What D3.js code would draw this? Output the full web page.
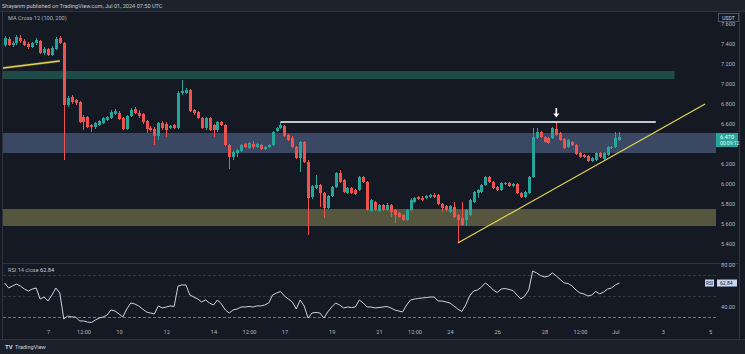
<!DOCTYPE html>
<html>
<head>
<meta charset="utf-8">
<script src="https://cdn.jsdelivr.net/npm/d3@7"></script>
<style>
  body { margin: 0; background: #151924; }
  svg { display: block; font-family: Roboto, "DejaVu Sans", sans-serif; }
</style>
</head>
<body>
<svg width="745" height="354"></svg>
<script>
// 4h candles, first one opens Jun 5 04:00 UTC
const candleStart = Date.UTC(2024, 5, 5, 4);
const candleHours = 4;

const open = [7.39,7.45,7.39,7.41,7.46,7.43,7.40,7.37,7.41,7.43,
  7.31,7.35,7.29,7.35,7.46,7.41,6.79,6.87,6.84,6.82,
  6.67,6.67,6.59,6.57,6.59,6.61,6.64,6.66,6.70,6.71,
  6.66,6.55,6.68,6.75,6.71,6.70,6.63,6.56,6.55,6.48,
  6.61,6.60,6.56,6.59,6.56,6.91,6.91,6.94,6.74,6.72,
  6.66,6.56,6.66,6.59,6.54,6.62,6.59,6.39,6.27,6.31,
  6.33,6.40,6.36,6.40,6.37,6.39,6.35,6.37,6.39,6.53,
  6.56,6.58,6.49,6.46,6.37,6.26,6.42,6.22,5.87,5.96,
  5.99,5.91,5.76,5.88,5.97,6.11,6.04,5.91,5.96,5.94,
  5.94,6.07,6.02,5.73,5.82,5.73,5.79,5.74,5.79,5.74,
  5.71,5.69,5.64,5.74,5.82,5.87,5.86,5.86,5.87,5.89,
  5.89,5.80,5.78,5.72,5.77,5.69,5.66,5.64,5.69,5.82,
  5.91,5.92,5.99,6.07,6.02,5.97,5.94,6.00,6.01,5.98,
  6.00,5.91,5.87,5.91,6.07,6.46,6.52,6.47,6.46,6.46,
  6.55,6.51,6.45,6.37,6.42,6.39,6.31,6.29,6.28,6.23,
  6.24,6.31,6.25,6.29,6.36,6.37,6.44];
const high = [7.48,7.47,7.43,7.49,7.49,7.45,7.42,7.42,7.46,7.44,
  7.37,7.36,7.38,7.47,7.48,7.42,6.88,6.89,6.85,6.83,
  6.69,6.68,6.60,6.62,6.64,6.67,6.68,6.74,6.75,6.73,
  6.67,6.69,6.76,6.77,6.74,6.71,6.64,6.58,6.57,6.62,
  6.63,6.62,6.59,6.60,6.93,7.04,6.96,6.95,6.75,6.73,
  6.67,6.67,6.67,6.60,6.63,6.63,6.60,6.40,6.33,6.35,
  6.40,6.41,6.42,6.43,6.41,6.40,6.38,6.40,6.53,6.57,
  6.62,6.59,6.50,6.48,6.38,6.43,6.43,6.24,5.99,6.09,
  6.00,5.92,5.89,5.98,6.12,6.14,6.05,5.97,5.97,5.95,
  6.08,6.08,6.03,5.85,5.83,5.80,5.80,5.81,5.80,5.75,
  5.72,5.70,5.75,5.86,5.87,5.88,5.88,5.89,5.90,5.91,
  5.90,5.81,5.79,5.79,5.82,5.70,5.82,5.75,5.85,5.93,
  5.95,6.00,6.08,6.08,6.03,5.98,6.02,6.02,6.02,6.01,
  6.01,5.92,5.93,6.08,6.56,6.56,6.53,6.48,6.47,6.57,
  6.62,6.52,6.46,6.45,6.43,6.40,6.32,6.30,6.29,6.27,
  6.32,6.32,6.32,6.38,6.38,6.52,6.52];
const low = [7.37,7.38,7.37,7.39,7.41,7.38,7.35,7.36,7.39,7.30,
  7.29,7.28,7.28,7.34,7.40,6.24,6.77,6.80,6.79,6.61,
  6.54,6.56,6.52,6.55,6.58,6.60,6.63,6.65,6.69,6.64,
  6.54,6.54,6.67,6.70,6.66,6.60,6.51,6.52,6.39,6.44,
  6.54,6.47,6.55,6.55,6.55,6.89,6.90,6.72,6.69,6.65,
  6.55,6.54,6.53,6.47,6.52,6.58,6.38,6.15,6.24,6.27,
  6.32,6.36,6.35,6.35,6.36,6.34,6.34,6.36,6.38,6.52,
  6.55,6.47,6.43,6.36,6.25,6.12,6.21,5.49,5.85,5.95,
  5.77,5.66,5.75,5.87,5.96,6.01,5.91,5.90,5.90,5.89,
  5.93,6.01,5.73,5.72,5.73,5.72,5.73,5.73,5.67,5.61,
  5.66,5.63,5.63,5.73,5.81,5.84,5.83,5.85,5.86,5.86,
  5.79,5.72,5.73,5.71,5.66,5.41,5.58,5.58,5.68,5.81,
  5.86,5.91,5.98,6.01,5.95,5.93,5.93,5.99,5.97,5.97,
  5.90,5.86,5.86,5.90,6.06,6.45,6.46,6.41,6.40,6.45,
  6.48,6.43,6.35,6.36,6.38,6.29,6.26,6.26,6.22,6.22,
  6.23,6.26,6.24,6.28,6.35,6.36,6.43];
const close = [7.46,7.39,7.41,7.47,7.43,7.39,7.37,7.41,7.44,7.31,
  7.35,7.29,7.36,7.45,7.41,6.79,6.86,6.82,6.81,6.62,
  6.62,6.57,6.57,6.61,6.63,6.66,6.67,6.72,6.73,6.65,
  6.55,6.68,6.74,6.71,6.68,6.62,6.55,6.54,6.48,6.61,
  6.56,6.54,6.58,6.56,6.91,6.93,6.94,6.73,6.71,6.66,
  6.56,6.66,6.54,6.54,6.62,6.59,6.39,6.27,6.32,6.34,
  6.39,6.37,6.41,6.37,6.40,6.35,6.37,6.39,6.52,6.56,
  6.59,6.48,6.44,6.37,6.26,6.42,6.22,5.86,5.98,5.99,
  5.91,5.76,5.88,5.97,6.11,6.02,5.92,5.96,5.91,5.90,
  6.07,6.02,5.74,5.84,5.74,5.79,5.74,5.79,5.72,5.69,
  5.67,5.64,5.74,5.84,5.86,5.85,5.84,5.88,5.89,5.87,
  5.80,5.76,5.74,5.78,5.67,5.64,5.59,5.74,5.84,5.92,
  5.94,5.99,6.07,6.02,5.96,5.94,6.01,6.01,5.98,6.00,
  5.91,5.87,5.92,6.07,6.47,6.52,6.47,6.42,6.41,6.56,
  6.49,6.44,6.36,6.44,6.39,6.30,6.27,6.27,6.23,6.26,
  6.31,6.27,6.31,6.37,6.37,6.46,6.47];

const rsi = [62.9,58.1,60.0,61.9,60.0,57.1,55.2,57.1,58.1,47.6,
  49.5,45.7,51.4,58.1,53.3,28.6,31.4,30.5,30.5,26.7,
  26.7,25.7,25.2,27.6,29.5,30.5,32.4,37.2,36.2,33.4,
  30.5,38.1,43.8,42.9,41.0,38.1,35.3,34.3,33.4,41.0,
  39.1,40.0,41.0,40.5,60.0,61.0,61.0,51.4,49.5,47.6,
  44.8,46.7,43.8,41.9,46.7,42.9,37.2,34.3,37.2,38.1,
  40.0,40.0,40.5,40.0,41.0,41.0,41.9,43.8,51.4,53.3,
  54.8,50.5,47.6,44.8,38.1,46.7,41.0,29.5,34.3,34.8,
  34.3,29.5,35.3,40.0,43.8,41.9,39.1,40.0,39.5,40.0,
  46.7,43.8,40.0,40.0,39.1,39.5,40.0,40.5,39.1,37.2,
  36.2,35.3,41.9,46.7,47.6,48.1,48.6,49.0,49.5,49.5,
  45.7,45.7,44.8,43.8,41.0,38.1,35.7,41.9,50.5,55.2,
  56.2,59.0,62.9,60.0,56.2,53.8,57.1,57.6,56.7,55.7,
  51.4,47.6,50.5,56.2,74.3,72.4,70.0,68.6,69.5,72.4,
  69.5,66.2,62.9,62.4,60.0,56.2,53.3,52.4,50.5,51.4,
  54.8,52.4,54.3,57.1,58.1,61.0,62.84];

const priceTicks = [7.6, 7.4, 7.2, 7.0, 6.8, 6.6, 6.4, 6.2, 6.0, 5.8, 5.6, 5.4];
const rsiTicks = [80, 40];
const rsiLevels = [70, 50, 30];
const timeTicks = [Date.UTC(2024,5,7), Date.UTC(2024,5,8,12), Date.UTC(2024,5,10), Date.UTC(2024,5,12),
  Date.UTC(2024,5,14), Date.UTC(2024,5,15,12), Date.UTC(2024,5,17), Date.UTC(2024,5,19),
  Date.UTC(2024,5,21), Date.UTC(2024,5,22,12), Date.UTC(2024,5,24), Date.UTC(2024,5,26),
  Date.UTC(2024,5,28), Date.UTC(2024,5,29,12), Date.UTC(2024,6,1), Date.UTC(2024,6,3), Date.UTC(2024,6,5)];
const timeLabels = ["7","12:00","10","12","14","12:00","17","19","21","12:00","24","26","28","12:00","Jul","3","5"];

// zones (price bands), null end = runs to the right edge
const zoneHigh = [7.13, 6.51, 5.75];
const zoneLow = [7.05, 6.31, 5.58];
const zoneEnd = [Date.UTC(2024,6,3,12), null, null];
const zoneFill = ["#1e4a48", "#3b4863", "#56563f"];

// drawn lines: [time, price] pairs
const trendOld = [[Date.UTC(2024,5,5,2), 7.16], [Date.UTC(2024,5,7,12), 7.23]];
const trendUp = [[Date.UTC(2024,5,24,8), 5.41], [Date.UTC(2024,6,4,19), 6.80]];
const topLine = [[Date.UTC(2024,5,16,20), 6.62], [Date.UTC(2024,6,2,17), 6.62]];
const arrowAt = [Date.UTC(2024,5,28,12), 6.76, 6.665];

const svg = d3.select("svg"),
      width = +svg.attr("width"),
      height = +svg.attr("height");

const plotLeft = 3, plotRight = 716, frameRight = 740,
      mainTop = 12, mainBottom = 263, rsiBottom = 324, footTop = 339;

const time = i => new Date(candleStart + i * candleHours * 3600e3);
const idx = d3.range(close.length);

const x = d3.scaleUtc().domain([Date.UTC(2024,5,7), Date.UTC(2024,6,5)]).range([48, 710]);
const y = d3.scaleLinear().domain([5.4, 7.6]).range([244, 24]);
const yR = d3.scaleLinear().domain([40, 80]).range([307, 265]);

const up = "#26a69a", down = "#ef5350";

svg.append("rect").attr("width", width).attr("height", height).attr("fill", "#151924");
svg.append("rect").attr("width", width).attr("height", 11).attr("fill", "#1e222d");
svg.append("rect").attr("y", footTop).attr("width", width).attr("height", height - footTop).attr("fill", "#1c202b");

svg.append("text").attr("x", 2).attr("y", 7.5).attr("fill", "#c4c7cf").attr("font-size", 5.6)
  .text("Shayanm published on TradingView.com, Jul 01, 2024 07:50 UTC");

// frame
const frame = svg.append("g").attr("stroke", "#2f3340").attr("stroke-width", 1);
frame.append("line").attr("x1", 0).attr("x2", width).attr("y1", 11.5).attr("y2", 11.5);
frame.append("line").attr("x1", plotLeft - 0.5).attr("x2", plotLeft - 0.5).attr("y1", 11.5).attr("y2", footTop);
frame.append("line").attr("x1", frameRight - 0.5).attr("x2", frameRight - 0.5).attr("y1", 11.5).attr("y2", footTop);
frame.append("line").attr("x1", plotLeft).attr("x2", frameRight).attr("y1", mainBottom + 0.5).attr("y2", mainBottom + 0.5);
frame.append("line").attr("x1", 0).attr("x2", width).attr("y1", footTop + 0.5).attr("y2", footTop + 0.5);

svg.append("clipPath").attr("id", "mainClip").append("rect")
  .attr("x", plotLeft).attr("y", mainTop).attr("width", plotRight - plotLeft).attr("height", mainBottom - mainTop);
const main = svg.append("g").attr("clip-path", "url(#mainClip)");

// zones
main.selectAll("rect.zone").data(zoneHigh).enter().append("rect")
  .attr("class", "zone")
  .attr("x", plotLeft)
  .attr("width", (d, i) => (zoneEnd[i] ? x(zoneEnd[i]) : plotRight) - plotLeft)
  .attr("y", d => y(d))
  .attr("height", (d, i) => y(zoneLow[i]) - y(d))
  .attr("fill", (d, i) => zoneFill[i]);

// candles
main.selectAll("line.wick").data(idx).enter().append("line")
  .attr("x1", i => Math.round(x(time(i))) + 0.5)
  .attr("x2", i => Math.round(x(time(i))) + 0.5)
  .attr("y1", i => y(high[i]))
  .attr("y2", i => y(low[i]))
  .attr("stroke", i => close[i] >= open[i] ? up : down)
  .attr("stroke-width", 1);

main.selectAll("rect.body").data(idx).enter().append("rect")
  .attr("x", i => Math.round(x(time(i))) - 1)
  .attr("width", 3)
  .attr("y", i => y(Math.max(open[i], close[i])))
  .attr("height", i => Math.max(1, Math.abs(y(open[i]) - y(close[i]))))
  .attr("fill", i => close[i] >= open[i] ? up : down);

// drawings
const pline = d3.line().x(d => x(d[0])).y(d => y(d[1]));
main.append("path").attr("d", pline(trendOld)).attr("fill", "none")
  .attr("stroke", "#3a3a30").attr("stroke-width", 3);
main.append("path").attr("d", pline(trendOld)).attr("fill", "none")
  .attr("stroke", "#e3d24c").attr("stroke-width", 1.4);
main.append("path").attr("d", pline(trendUp)).attr("fill", "none")
  .attr("stroke", "#e8dc4e").attr("stroke-width", 1.1);
main.append("path").attr("d", pline(topLine)).attr("fill", "none")
  .attr("stroke", "#ffffff").attr("stroke-width", 1.3);

const ax = x(arrowAt[0]), aTop = y(arrowAt[1]), aTip = y(arrowAt[2]);
main.append("line").attr("x1", ax).attr("x2", ax).attr("y1", aTop).attr("y2", aTip - 3)
  .attr("stroke", "#ffffff").attr("stroke-width", 1.6);
main.append("path").attr("d", `M${ax - 3},${aTip - 4}L${ax + 3},${aTip - 4}L${ax},${aTip}Z`).attr("fill", "#ffffff");

svg.append("text").attr("x", 8).attr("y", 20).attr("fill", "#b2b5be").attr("font-size", 5.6)
  .text("MA Cross  12 (100, 200)");

// price axis
const lastY = y(close[close.length - 1]);
const yAxis = d3.axisRight(y)
  .tickValues(priceTicks.filter(p => Math.abs(y(p) - lastY) > 9))
  .tickFormat(d3.format(".3f")).tickSize(0).tickPadding(5);
svg.append("g").attr("transform", "translate(" + plotRight + ",0)").call(yAxis)
  .attr("font-size", 5.6).attr("font-family", "Roboto, sans-serif")
  .call(g => g.select(".domain").remove())
  .selectAll("text").attr("fill", "#b2b5be");

svg.append("rect").attr("x", 718.5).attr("y", 13.5).attr("width", 20).attr("height", 8)
  .attr("fill", "#151924").attr("stroke", "#5d606b").attr("stroke-width", 0.8);
svg.append("text").attr("x", 728.5).attr("y", 19.6).attr("text-anchor", "middle")
  .attr("fill", "#d1d4dc").attr("font-size", 5).text("USDT");

svg.append("rect").attr("x", plotRight).attr("y", lastY - 4).attr("width", 22).attr("height", 14).attr("fill", up);
svg.append("text").attr("x", plotRight + 4).attr("y", lastY + 2).attr("fill", "#ffffff").attr("font-size", 5.6)
  .text(d3.format(".3f")(close[close.length - 1]));
svg.append("text").attr("x", plotRight + 4).attr("y", lastY + 8).attr("fill", "#e8f5f3").attr("font-size", 5)
  .text("00:09:12");

// RSI pane
const rsiG = svg.append("g");
rsiG.selectAll("line.level").data(rsiLevels).enter().append("line")
  .attr("x1", plotLeft).attr("x2", plotRight)
  .attr("y1", d => yR(d)).attr("y2", d => yR(d))
  .attr("stroke", d => d === 30 ? "#8a8d96" : "#3b3f4b")
  .attr("stroke-dasharray", "3,2").attr("stroke-width", 0.8);

const rline = d3.line().x((d, i) => x(time(i))).y(d => yR(d));
rsiG.append("path").attr("d", rline(rsi)).attr("fill", "none")
  .attr("stroke", "#cdd2e4").attr("stroke-width", 1);

svg.append("text").attr("x", 8).attr("y", 272).attr("font-size", 5.6).attr("fill", "#b2b5be")
  .text("RSI 14 close ")
  .append("tspan").attr("fill", "#d1d4dc").text(d3.format(".2f")(rsi[rsi.length - 1]));

const rAxis = d3.axisRight(yR).tickValues(rsiTicks).tickFormat(d3.format(".2f")).tickSize(0).tickPadding(5);
svg.append("g").attr("transform", "translate(" + plotRight + ",0)").call(rAxis)
  .attr("font-size", 5.6).attr("font-family", "Roboto, sans-serif")
  .call(g => g.select(".domain").remove())
  .selectAll("text").attr("fill", "#b2b5be");

const lastR = yR(rsi[rsi.length - 1]);
svg.append("rect").attr("x", 705).attr("y", lastR - 3.5).attr("width", 9).attr("height", 7).attr("fill", "#c9d6ef");
svg.append("text").attr("x", 709.5).attr("y", lastR + 1.8).attr("text-anchor", "middle")
  .attr("font-size", 4.6).attr("fill", "#131722").text("RSI");
svg.append("rect").attr("x", plotRight + 1).attr("y", lastR - 3.5).attr("width", 20).attr("height", 7).attr("fill", "#c9d6ef");
svg.append("text").attr("x", plotRight + 4).attr("y", lastR + 1.8)
  .attr("font-size", 5).attr("fill", "#131722").text(d3.format(".2f")(rsi[rsi.length - 1]));

// time axis
const xAxis = d3.axisBottom(x).tickValues(timeTicks.map(d => new Date(d)))
  .tickFormat((d, i) => timeLabels[i]).tickSize(0).tickPadding(6);
svg.append("g").attr("transform", "translate(0," + rsiBottom + ")").call(xAxis)
  .attr("font-size", 5.6).attr("font-family", "Roboto, sans-serif")
  .call(g => g.select(".domain").remove())
  .selectAll("text").attr("fill", "#b2b5be");

// footer logo
svg.append("text").attr("x", 5).attr("y", 349).attr("font-size", 6).attr("font-weight", "bold")
  .attr("fill", "#d1d4dc").text("TV");
svg.append("text").attr("x", 15).attr("y", 349).attr("font-size", 5.6)
  .attr("fill", "#d1d4dc").text("TradingView");
</script>
</body>
</html>
